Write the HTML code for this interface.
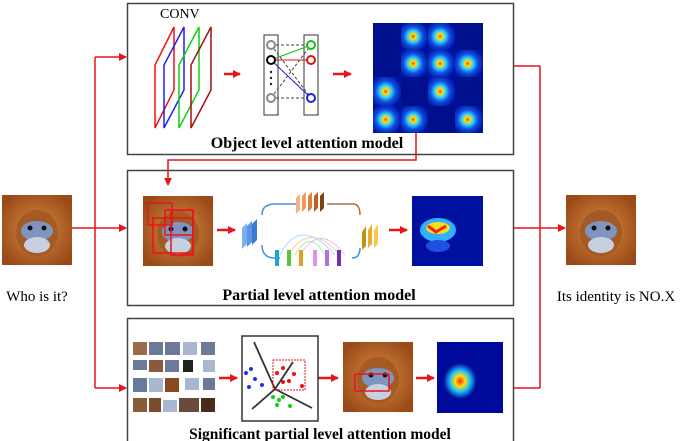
<!DOCTYPE html>
<html><head><style>
html,body{margin:0;padding:0;background:#fff;}
svg{display:block;}
text{font-family:"Liberation Serif",serif;}
</style></head><body>
<svg width="681" height="441" viewBox="0 0 681 441" xmlns="http://www.w3.org/2000/svg">
<defs>
<marker id="ar" markerWidth="8" markerHeight="8" refX="7" refY="4" orient="auto" markerUnits="userSpaceOnUse"><path d="M0,0 L8,4 L0,8z" fill="#e8141a"/></marker>
<radialGradient id="mk" cx="50%" cy="50%" r="60%"><stop offset="0" stop-color="#d88a40"/><stop offset="1" stop-color="#9a4a18"/></radialGradient>
<radialGradient id="hm" cx="45%" cy="50%" r="60%"><stop offset="0" stop-color="#ff3000"/><stop offset="0.15" stop-color="#ffe000"/><stop offset="0.35" stop-color="#30d0ff"/><stop offset="0.6" stop-color="#1050e0"/><stop offset="1" stop-color="#0010a0"/></radialGradient>
<radialGradient id="hm2" cx="35%" cy="55%" r="25%"><stop offset="0" stop-color="#ff2000"/><stop offset="0.3" stop-color="#ffe000"/><stop offset="0.6" stop-color="#20c0ff"/><stop offset="1" stop-color="#000a9a"/></radialGradient>
<g id="monkey">
<rect width="70" height="70" fill="url(#mk)"/>
<ellipse cx="35" cy="38" rx="21" ry="23" fill="#a45a24"/>
<ellipse cx="35" cy="36" rx="16" ry="10" fill="#7f95c0"/>
<ellipse cx="35" cy="50" rx="13" ry="8" fill="#c8cfe0"/>
<circle cx="28" cy="33" r="2.5" fill="#111"/><circle cx="42" cy="33" r="2.5" fill="#111"/>
</g>
</defs>
<rect x="127.5" y="3.5" width="386" height="151" fill="#fff" stroke="#444" stroke-width="1.5"/>
<rect x="127.5" y="170.5" width="386" height="135" fill="#fff" stroke="#444" stroke-width="1.5"/>
<rect x="127.5" y="318.5" width="386" height="130" fill="#fff" stroke="#444" stroke-width="1.5"/>
<use href="#monkey" x="2" y="195"/>
<text x="37" y="301" font-size="15" text-anchor="middle">Who is it?</text>
<g stroke="#e8141a" stroke-width="1.5" fill="none">
<line x1="72" y1="228" x2="95" y2="228"/>
<line x1="95" y1="57" x2="95" y2="388"/>
<line x1="95" y1="57" x2="126" y2="57" marker-end="url(#ar)"/>
<line x1="95" y1="228" x2="126" y2="228" marker-end="url(#ar)"/>
<line x1="95" y1="388" x2="126" y2="388" marker-end="url(#ar)"/>
<line x1="514" y1="66" x2="540" y2="66"/>
<line x1="514" y1="228" x2="540" y2="228"/>
<line x1="514" y1="388" x2="540" y2="388"/>
<line x1="540" y1="66" x2="540" y2="388"/>
<line x1="540" y1="228" x2="565" y2="228" marker-end="url(#ar)"/>
<polyline points="416,133 416,160 168,160 168,185" marker-end="url(#ar)"/>
</g>
<use href="#monkey" x="566" y="195"/>
<text x="616" y="301" font-size="15" text-anchor="middle">Its identity is NO.X</text>
<text x="160" y="18" font-size="14">CONV</text>
<g fill="none" stroke-width="1.5">
<polygon points="155,128 155,65 174,27 174,90" stroke="#f01010"/>
<polygon points="164,128 164,65 184,27 184,90" stroke="#2020f0"/>
<polygon points="179,128 179,65 199,27 199,90" stroke="#10d010"/>
<polygon points="191,128 191,65 211,27 211,90" stroke="#a01010"/>
</g>
<g stroke="#e8141a" stroke-width="2.5"><line x1="224" y1="74" x2="240" y2="74" marker-end="url(#ar)"/><line x1="333" y1="74" x2="351" y2="74" marker-end="url(#ar)"/></g>
<rect x="264" y="35" width="14" height="80" fill="none" stroke="#333"/>
<rect x="304" y="35" width="14" height="80" fill="none" stroke="#333"/>
<g stroke="#444" stroke-dasharray="3,2" stroke-width="1"><line x1="271" y1="45" x2="311" y2="45"/><line x1="271" y1="98" x2="311" y2="98"/><line x1="271" y1="45" x2="311" y2="98"/><line x1="271" y1="98" x2="311" y2="45"/><line x1="271" y1="60" x2="311" y2="98"/></g>
<line x1="271" y1="60" x2="311" y2="45" stroke="#10c010"/><line x1="271" y1="60" x2="311" y2="60" stroke="#e01010"/><line x1="271" y1="60" x2="311" y2="98" stroke="#3030e0"/>
<g fill="#fff" stroke-width="2"><circle cx="271" cy="45" r="4" stroke="#888"/><circle cx="271" cy="60" r="4" stroke="#000"/><circle cx="271" cy="98" r="4" stroke="#888"/>
<circle cx="311" cy="45" r="4" stroke="#10c010"/><circle cx="311" cy="60" r="4" stroke="#e01010"/><circle cx="311" cy="98" r="4" stroke="#2020e0"/></g>
<g fill="#222"><circle cx="271" cy="72" r="1.2"/><circle cx="271" cy="78" r="1.2"/><circle cx="271" cy="84" r="1.2"/></g>
<rect x="373" y="23" width="110" height="110" fill="#00108c"/>
<g>
<rect x="401" y="23" width="27" height="27" fill="url(#hm)"/><rect x="428" y="23" width="27" height="27" fill="url(#hm)"/>
<rect x="401" y="50" width="27" height="27" fill="url(#hm)"/><rect x="428" y="50" width="27" height="27" fill="url(#hm)"/><rect x="455" y="50" width="28" height="27" fill="url(#hm)"/>
<rect x="428" y="77" width="27" height="29" fill="url(#hm)"/><rect x="373" y="77" width="28" height="29" fill="url(#hm)"/>
<rect x="373" y="106" width="28" height="27" fill="url(#hm)"/><rect x="401" y="106" width="27" height="27" fill="url(#hm)"/><rect x="455" y="106" width="28" height="27" fill="url(#hm)"/>
</g>
<text x="307" y="148" font-size="16" font-weight="bold" text-anchor="middle">Object level attention model</text>
<use href="#monkey" x="143" y="196"/>
<g fill="none" stroke="#e8141a" stroke-width="1.5"><rect x="148" y="203" width="24" height="22"/><rect x="165" y="210" width="28" height="25"/><rect x="153" y="218" width="40" height="35"/><rect x="171" y="210" width="22" height="45"/></g>
<g stroke="#e8141a" stroke-width="2.5"><line x1="217" y1="230" x2="235" y2="230" marker-end="url(#ar)"/><line x1="389" y1="230" x2="407" y2="230" marker-end="url(#ar)"/></g>
<path d="M262,215 Q262,204 275,204 L297,204 M262,245 Q262,258 275,258 L280,258 M352,258 Q360,258 360,248" fill="none" stroke="#4a90e0" stroke-width="1.5"/>
<path d="M327,204 L353,204 Q360,204 360,215" fill="none" stroke="#b07040" stroke-width="1.5"/>
<g fill="none" stroke-width="1" opacity="0.7"><path d="M280,255 Q300,215 335,255" stroke="#80d0ff"/><path d="M288,255 Q310,220 340,255" stroke="#f0c060"/><path d="M295,255 Q310,228 325,255" stroke="#a0e080"/><path d="M300,255 Q320,222 345,255" stroke="#e0a0f0"/></g>
<g><polygon points="242,228 247,223 247,244 242,249" fill="#7ab0ee"/><polygon points="247,226 252,221 252,242 247,247" fill="#5a96e6"/><polygon points="252,224 257,219 257,240 252,245" fill="#3a7ad8"/>
<polygon points="296,198 300,194 300,210 296,214" fill="#f8b080"/><polygon points="302,196 306,192 306,208 302,212" fill="#f09860"/><polygon points="308,196 312,192 312,208 308,212" fill="#e08040"/><polygon points="314,196 318,192 318,208 314,212" fill="#c06020"/><polygon points="320,196 324,192 324,208 320,212" fill="#804010"/>
<polygon points="362,232 366,226 366,246 362,250" fill="#c89010"/><polygon points="368,230 372,224 372,244 368,248" fill="#e8b030"/><polygon points="374,230 378,224 378,244 374,248" fill="#f8c850"/>
<rect x="275" y="250" width="4" height="16" fill="#20a0e0"/><rect x="287" y="250" width="4" height="16" fill="#60c040"/><rect x="299" y="250" width="4" height="16" fill="#e0a020"/><rect x="313" y="250" width="4" height="16" fill="#e090f0"/><rect x="325" y="250" width="4" height="16" fill="#b070e0"/><rect x="337" y="250" width="4" height="16" fill="#7030b0"/></g>
<rect x="412" y="196" width="71" height="70" fill="#0010a0"/>
<ellipse cx="438" cy="230" rx="18" ry="12" fill="#30b0ff"/><ellipse cx="438" cy="228" rx="12" ry="6" fill="#f0e020"/><path d="M428,226 L436,232 L446,226" stroke="#ff2000" stroke-width="3" fill="none"/><ellipse cx="438" cy="246" rx="12" ry="6" fill="#2050e0"/>
<text x="319" y="300" font-size="16" font-weight="bold" text-anchor="middle">Partial level attention model</text>
<g fill="#6a7a98">
<rect x="133" y="342" width="14" height="13" fill="#9a6a4a"/><rect x="149" y="342" width="14" height="13"/><rect x="165" y="342" width="15" height="13"/><rect x="183" y="342" width="14" height="13" fill="#a8b8d0"/><rect x="201" y="342" width="14" height="13"/>
<rect x="133" y="360" width="14" height="10"/><rect x="149" y="360" width="14" height="12" fill="#8a5a3a"/><rect x="165" y="360" width="14" height="12"/><rect x="183" y="360" width="10" height="12" fill="#222"/><rect x="203" y="360" width="12" height="12" fill="#a8b8d0"/>
<rect x="133" y="378" width="14" height="14"/><rect x="149" y="378" width="14" height="14" fill="#a8b8d0"/><rect x="165" y="378" width="14" height="14" fill="#8a4a20"/><rect x="185" y="378" width="14" height="12" fill="#a8b8d0"/><rect x="203" y="378" width="12" height="12"/>
<rect x="133" y="398" width="14" height="14" fill="#8a5a3a"/><rect x="149" y="398" width="12" height="14" fill="#7a4a2a"/><rect x="163" y="400" width="14" height="12" fill="#a8b8d0"/><rect x="179" y="398" width="20" height="14" fill="#6a4a3a"/><rect x="201" y="398" width="14" height="14" fill="#4a2a1a"/>
</g>
<g stroke="#e8141a" stroke-width="2.5"><line x1="219" y1="378" x2="237" y2="378" marker-end="url(#ar)"/><line x1="318" y1="378" x2="338" y2="378" marker-end="url(#ar)"/><line x1="416" y1="378" x2="434" y2="378" marker-end="url(#ar)"/></g>
<rect x="242" y="336" width="76" height="85" fill="#fff" stroke="#333" stroke-width="1.5"/>
<g stroke="#333" stroke-width="1.8" fill="none"><polyline points="254,342 275,389 252,409"/><polyline points="275,389 293,362"/><polyline points="275,389 312,408"/></g>
<rect x="273" y="360" width="32" height="30" fill="none" stroke="#e8141a" stroke-dasharray="2,1"/>
<g fill="#2030f0"><circle cx="251" cy="369" r="2"/><circle cx="246" cy="373" r="2"/><circle cx="255" cy="379" r="2"/><circle cx="262" cy="385" r="2"/><circle cx="249" cy="387" r="2"/></g>
<g fill="#f01010"><circle cx="283" cy="368" r="2"/><circle cx="277" cy="373" r="2"/><circle cx="294" cy="374" r="2"/><circle cx="289" cy="381" r="2"/><circle cx="283" cy="382" r="2"/><circle cx="302" cy="386" r="2"/></g>
<g fill="#10d010"><circle cx="273" cy="397" r="2"/><circle cx="279" cy="400" r="2"/><circle cx="283" cy="397" r="2"/><circle cx="277" cy="405" r="2"/><circle cx="290" cy="406" r="2"/></g>
<use href="#monkey" x="343" y="342"/>
<rect x="355" y="374" width="34" height="17" fill="none" stroke="#e8141a" stroke-width="1.5"/>
<rect x="437" y="342" width="66" height="71" fill="url(#hm2)"/>
<text x="320" y="439" font-size="15.5" font-weight="bold" text-anchor="middle">Significant partial level attention model</text>
</svg>
</body></html>
